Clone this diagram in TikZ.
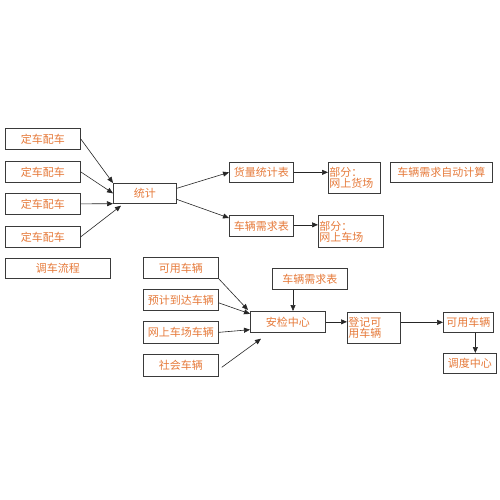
\documentclass[tikz,border=0pt]{standalone}
\usepackage{fontspec}
\newfontfamily\cjk{Noto Sans CJK SC}
\usetikzlibrary{arrows.meta,positioning,calc}
\definecolor{txtOrange}{HTML}{E67A3A}
\definecolor{boxInk}{HTML}{3A3A3A}

\begin{document}
\begin{tikzpicture}[x=1pt, y=-1pt, font=\cjk\fontsize{11}{13}\selectfont,
  box/.style={draw=boxInk, line width=0.7pt, text=txtOrange, anchor=north west, inner sep=1.5pt, minimum height=21pt},
  lbox/.style={box, align=left, inner sep=1pt},
  arr/.style={-{Triangle[length=6pt,width=5pt]}, black!85, line width=0.6pt},
]
\useasboundingbox[fill=white] (0,0) rectangle (500,500);
% ---- top group ----
\foreach \i/\y in {1/128,2/161,3/193,4/226}{\node[box, minimum width=75pt] (dc\i) at (5,\y){定车配车};}
\node[box, minimum width=105pt, minimum height=20pt] (diaoche) at (5,258){调车流程};
\node[box, minimum width=63pt, minimum height=20pt] (tongji) at (113,183){统计};
\node[box, minimum width=64pt, minimum height=20pt] (huoliang) at (229,162){货量统计表};
\node[box, minimum width=64pt] (xuqiu) at (229,215){车辆需求表};
\node[lbox, minimum width=52pt, minimum height=31pt, text width=50pt] (huochang) at (328,162){部分：\\[-2pt]网上货场};
\node[lbox, minimum width=65pt, minimum height=32pt, text width=63pt] (chechang) at (318,215){部分：\\[-2pt]网上车场};
\node[box, minimum width=102pt, minimum height=20pt] (zidong) at (390,162){车辆需求自动计算};
% ---- arrows into / out of tongji ----
\draw[arr] (dc1.east) -- (tongji.north west);
\draw[arr] (dc2.east) -- (tongji.west);
\draw[arr] (dc3.east) -- (tongji.south west);
\draw[arr] (dc4.east) -- ($(tongji.south west)+(8,2)$);
\draw[arr] ($(tongji.east)+(0,-5)$) -- (huoliang.west);
\draw[arr] ($(tongji.east)+(0,6)$) -- ($(xuqiu.north west)+(0,3)$);
\draw[arr] (huoliang.east) -- (huoliang.east -| huochang.west);
\draw[arr] ($(xuqiu.east)+(0,-1)$) -- ($(xuqiu.east -| chechang.west)+(0,-1)$);
% ---- bottom group ----
\node[box, minimum width=75pt] (keyong) at (143,257){可用车辆};
\node[box, minimum width=75pt] (yuji) at (143,289){预计到达车辆};
\node[box, minimum width=75pt, minimum height=22pt] (wangshang) at (143,321){网上车场车辆};
\node[box, minimum width=75pt, minimum height=22pt] (shehui) at (143,354){社会车辆};
\node[box, minimum width=75pt] (xuqiub) at (272,268){车辆需求表};
\node[box, minimum width=75pt] (anjian) at (250,311){安检中心};
\node[lbox, minimum width=53pt, minimum height=31pt, text width=51pt] (dengji) at (347,312){登记可\\[-2pt]用车辆};
\node[box, minimum width=50pt, minimum height=20pt] (keyongb) at (443,312){可用车辆};
\node[box, minimum width=53pt, minimum height=20pt] (diaodu) at (443,353){调度中心};
% ---- arrows into / out of anjian ----
\draw[arr] (keyong.south east) -- ($(anjian.north west)+(-2,-1)$);
\draw[arr] ($(yuji.east)+(0,3)$) -- ($(anjian.west)+(0,-8)$);
\draw[arr] (wangshang.east) -- ($(anjian.south west)+(0,-3)$);
\draw[arr] ($(shehui.east)+(3,2)$) -- ($(anjian.south west)+(11,6)$);
\draw[arr] ($(xuqiub.south west)+(21,0)$) -- ($(anjian.north west)+(43,0)$);
\draw[arr] (anjian.east) -- (anjian.east -| dengji.west);
\draw[arr] (keyongb.west -| dengji.east) -- (keyongb.west);
\draw[arr] ($(keyongb.south)+(7,0)$) -- ($(diaodu.north)+(5.5,0)$);
\end{tikzpicture}
\end{document}
